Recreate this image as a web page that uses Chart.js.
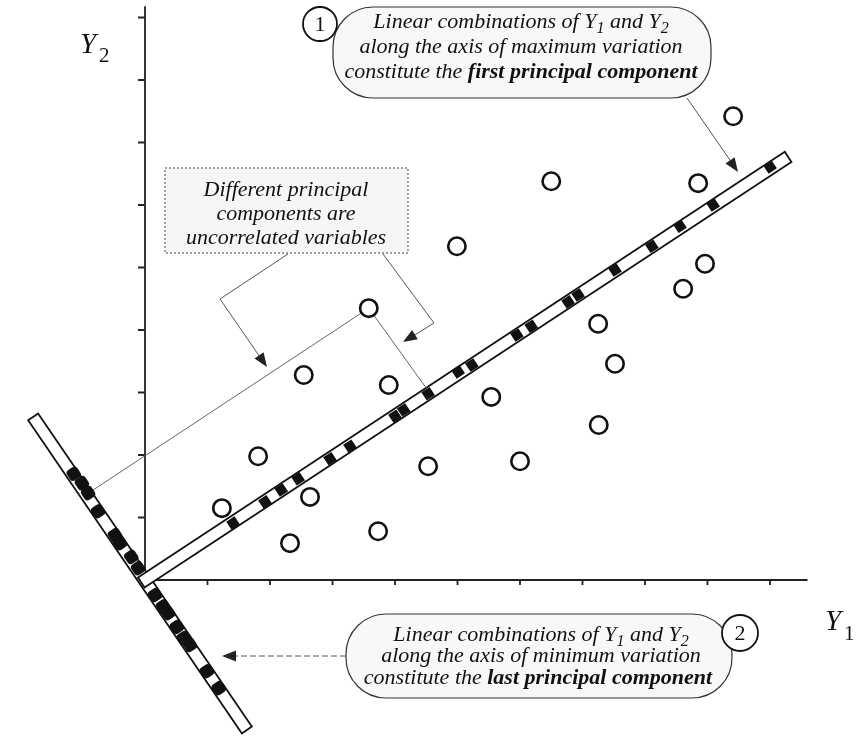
<!DOCTYPE html>
<html>
<head>
<meta charset="utf-8">
<script src="https://cdn.jsdelivr.net/npm/chart.js@4"></script>
<style>
  body { margin: 0; background: #fff; }
  #chartContainer { width: 860px; height: 736px; }
</style>
</head>
<body>
<div id="chartContainer"><canvas id="chartCanvas" width="860" height="736"></canvas></div>
<script>
// axis ticks (one unit per tick)
const xTicks = [1, 2, 3, 4, 5, 6, 7, 8, 9, 10];
const yTicks = [1, 2, 3, 4, 5, 6, 7, 8, 9];

// observations (open circles)
const obsY1 = [1.23, 1.81, 2.32, 2.54, 2.64, 3.58, 3.73, 3.90, 4.53, 4.99, 5.54, 6.00, 6.50, 7.25, 7.26, 7.52, 8.61, 8.85, 8.96, 9.41];
const obsY2 = [1.15, 1.98, 0.59, 3.28, 1.33, 4.35, 0.78, 3.12, 1.82, 5.34, 2.93, 1.90, 6.38, 4.10, 2.48, 3.46, 4.66, 6.35, 5.06, 7.42];

// projections on the first principal component
const pc1Y1 = [1.41, 1.92, 2.18, 2.45, 2.96, 3.28, 4.00, 4.14, 4.53, 5.01, 5.23, 5.95, 6.18, 6.77, 6.93, 7.52, 8.11, 8.56, 9.09, 10.00];
const pc1Y2 = [0.91, 1.25, 1.44, 1.62, 1.94, 2.14, 2.62, 2.72, 2.98, 3.33, 3.44, 3.92, 4.06, 4.45, 4.56, 4.96, 5.34, 5.66, 6.00, 6.61];

// projections on the last principal component
const pc2Y1 = [-1.14, -1.01, -0.91, -0.75, -0.48, -0.40, -0.22, -0.11, 0.16, 0.29, 0.37, 0.51, 0.62, 0.72, 0.99, 1.18];
const pc2Y2 = [1.70, 1.55, 1.39, 1.10, 0.72, 0.59, 0.37, 0.19, -0.24, -0.42, -0.53, -0.75, -0.93, -1.04, -1.46, -1.73];

// component axes (end points)
const pc1AxisY1 = [-0.06, 10.29];
const pc1AxisY2 = [-0.04, 6.77];
const pc2AxisY1 = [-1.79, 1.63];
const pc2AxisY2 = [2.61, -2.40];

// projection lines of one observation
const projToPc1Y1 = [3.58, 4.50];
const projToPc1Y2 = [4.35, 3.07];
const projToPc2Y1 = [3.58, -0.83];
const projToPc2Y2 = [4.35, 1.44];

const SERIF = '"Liberation Serif", "DejaVu Serif", serif';

function pts(xs, ys) {
    return xs.map((x, i) => ({ x: x, y: ys[i] }));
}

function drawRich(ctx, parts, cx, y, size) {
    const fontFor = w => {
        if (w === 'b') return `italic bold ${size}px ${SERIF}`;
        if (w === 'sub') return `italic ${Math.round(size * 0.72)}px ${SERIF}`;
        return `italic ${size}px ${SERIF}`;
    };
    let total = 0;
    parts.forEach(p => { ctx.font = fontFor(p.w); total += ctx.measureText(p.t).width; });
    let x = cx - total / 2;
    ctx.textBaseline = 'alphabetic';
    ctx.textAlign = 'left';
    parts.forEach(p => {
        ctx.font = fontFor(p.w);
        ctx.fillText(p.t, x, p.w === 'sub' ? y + size * 0.22 : y);
        x += ctx.measureText(p.t).width;
    });
}

function arrowHead(ctx, fx, fy, tx, ty) {
    const a = Math.atan2(ty - fy, tx - fx);
    const len = 14, half = 5.5;
    ctx.beginPath();
    ctx.moveTo(tx, ty);
    ctx.lineTo(tx - len * Math.cos(a) + half * Math.sin(a), ty - len * Math.sin(a) - half * Math.cos(a));
    ctx.lineTo(tx - len * Math.cos(a) - half * Math.sin(a), ty - len * Math.sin(a) + half * Math.cos(a));
    ctx.closePath();
    ctx.fillStyle = '#222';
    ctx.fill();
}

function drawBar(ctx, p0, p1, half) {
    const dx = p1[0] - p0[0], dy = p1[1] - p0[1];
    const l = Math.hypot(dx, dy);
    const nx = -dy / l * half, ny = dx / l * half;
    ctx.beginPath();
    ctx.moveTo(p0[0] + nx, p0[1] + ny);
    ctx.lineTo(p1[0] + nx, p1[1] + ny);
    ctx.lineTo(p1[0] - nx, p1[1] - ny);
    ctx.lineTo(p0[0] - nx, p0[1] - ny);
    ctx.closePath();
    ctx.fillStyle = '#fff';
    ctx.fill();
    ctx.lineWidth = 1.8;
    ctx.strokeStyle = '#111';
    ctx.stroke();
}

const axesPlugin = {
    id: 'axesAndBars',
    beforeDatasetsDraw(chart) {
        const ctx = chart.ctx;
        const sx = chart.scales.x, sy = chart.scales.y;
        const P = (x, y) => [sx.getPixelForValue(x), sy.getPixelForValue(y)];
        const o = P(0, 0);
        ctx.save();
        ctx.strokeStyle = '#222';
        ctx.lineWidth = 1.8;
        // Y2 axis
        ctx.beginPath();
        ctx.moveTo(o[0], o[1]);
        ctx.lineTo(o[0], P(0, 9.18)[1]);
        yTicks.forEach(t => {
            const p = P(0, t);
            ctx.moveTo(p[0] - 7, p[1]);
            ctx.lineTo(p[0], p[1]);
        });
        // Y1 axis
        ctx.moveTo(o[0], o[1]);
        ctx.lineTo(P(10.6, 0)[0], o[1]);
        xTicks.forEach(t => {
            const p = P(t, 0);
            ctx.moveTo(p[0], p[1]);
            ctx.lineTo(p[0], p[1] + 5);
        });
        ctx.stroke();

        drawBar(ctx, P(pc2AxisY1[0], pc2AxisY2[0]), P(pc2AxisY1[1], pc2AxisY2[1]), 6);
        drawBar(ctx, P(pc1AxisY1[0], pc1AxisY2[0]), P(pc1AxisY1[1], pc1AxisY2[1]), 6);

        // axis titles
        ctx.fillStyle = '#111';
        ctx.textAlign = 'left';
        ctx.textBaseline = 'alphabetic';
        ctx.font = `italic 29px ${SERIF}`;
        ctx.fillText('Y', 80, 53);
        ctx.fillText('Y', 825, 630);
        ctx.font = `21px ${SERIF}`;
        ctx.fillText('2', 99, 62);
        ctx.fillText('1', 844, 640);
        ctx.restore();
    },
    afterDatasetsDraw(chart) {
        const ctx = chart.ctx;
        ctx.save();
        ctx.fillStyle = '#111';

        // box: uncorrelated
        ctx.fillStyle = '#f6f6f6';
        ctx.fillRect(165, 168, 243, 85);
        ctx.setLineDash([2, 2]);
        ctx.strokeStyle = '#444';
        ctx.lineWidth = 1;
        ctx.strokeRect(165, 168, 243, 85);
        ctx.setLineDash([]);
        ctx.fillStyle = '#111';
        drawRich(ctx, [{ t: 'Different principal', w: 'i' }], 286, 196, 22);
        drawRich(ctx, [{ t: 'components are', w: 'i' }], 286, 220, 22);
        drawRich(ctx, [{ t: 'uncorrelated variables', w: 'i' }], 286, 244, 22);

        ctx.strokeStyle = '#555';
        ctx.lineWidth = 1;
        ctx.beginPath();
        ctx.moveTo(288, 254); ctx.lineTo(220, 299); ctx.lineTo(262, 360);
        ctx.moveTo(383, 254); ctx.lineTo(434, 323); ctx.lineTo(410, 338);
        ctx.stroke();
        arrowHead(ctx, 220, 299, 267, 367);
        arrowHead(ctx, 434, 323, 403, 342);

        // bubble 1
        ctx.beginPath();
        ctx.roundRect(333, 7, 378, 91, 40);
        ctx.fillStyle = '#f8f8f8';
        ctx.fill();
        ctx.strokeStyle = '#333';
        ctx.lineWidth = 1.2;
        ctx.stroke();
        ctx.beginPath();
        ctx.arc(320, 24, 17, 0, Math.PI * 2);
        ctx.fillStyle = '#fff';
        ctx.fill();
        ctx.lineWidth = 1.8;
        ctx.strokeStyle = '#111';
        ctx.stroke();
        ctx.fillStyle = '#111';
        ctx.font = `22px ${SERIF}`;
        ctx.textAlign = 'center';
        ctx.textBaseline = 'middle';
        ctx.fillText('1', 320, 25);
        drawRich(ctx, [{ t: 'Linear combinations of Y', w: 'i' }, { t: '1', w: 'sub' }, { t: ' and Y', w: 'i' }, { t: '2', w: 'sub' }], 521, 28, 22);
        drawRich(ctx, [{ t: 'along the axis of maximum variation', w: 'i' }], 521, 53, 22);
        drawRich(ctx, [{ t: 'constitute the ', w: 'i' }, { t: 'first principal component', w: 'b' }], 521, 78, 22);

        ctx.strokeStyle = '#555';
        ctx.lineWidth = 1;
        ctx.beginPath();
        ctx.moveTo(687, 98); ctx.lineTo(732, 163);
        ctx.stroke();
        arrowHead(ctx, 687, 98, 738, 172);

        // bubble 2
        ctx.beginPath();
        ctx.roundRect(346, 614, 386, 84, 40);
        ctx.fillStyle = '#f8f8f8';
        ctx.fill();
        ctx.strokeStyle = '#333';
        ctx.lineWidth = 1.2;
        ctx.stroke();
        ctx.beginPath();
        ctx.arc(740, 633, 18, 0, Math.PI * 2);
        ctx.fillStyle = '#fff';
        ctx.fill();
        ctx.lineWidth = 1.8;
        ctx.strokeStyle = '#111';
        ctx.stroke();
        ctx.fillStyle = '#111';
        ctx.font = `22px ${SERIF}`;
        ctx.textAlign = 'center';
        ctx.textBaseline = 'middle';
        ctx.fillText('2', 740, 634);
        drawRich(ctx, [{ t: 'Linear combinations of Y', w: 'i' }, { t: '1', w: 'sub' }, { t: ' and Y', w: 'i' }, { t: '2', w: 'sub' }], 541, 641, 22);
        drawRich(ctx, [{ t: 'along the axis of minimum variation', w: 'i' }], 541, 662, 22);
        drawRich(ctx, [{ t: 'constitute the ', w: 'i' }, { t: 'last principal component', w: 'b' }], 538, 684, 22);

        ctx.strokeStyle = '#555';
        ctx.lineWidth = 1;
        ctx.setLineDash([6, 3]);
        ctx.beginPath();
        ctx.moveTo(346, 656); ctx.lineTo(234, 656);
        ctx.stroke();
        ctx.setLineDash([]);
        arrowHead(ctx, 346, 656, 222, 656);
        ctx.restore();
    }
};

document.addEventListener("DOMContentLoaded", function () {
    const ctx = document.getElementById("chartCanvas").getContext("2d");

    new Chart(ctx, {
        type: "scatter",
        data: {
            datasets: [
                {
                    label: "Observations",
                    data: pts(obsY1, obsY2),
                    pointRadius: 8.7,
                    borderWidth: 2.6,
                    borderColor: "#111",
                    backgroundColor: "#fff",
                    order: 0,
                },
                {
                    label: "First principal component",
                    data: pts(pc1Y1, pc1Y2),
                    pointStyle: "rect",
                    rotation: -33.5,
                    pointRadius: 7,
                    borderWidth: 0,
                    backgroundColor: "#111",
                    order: 1,
                },
                {
                    label: "Last principal component",
                    data: pts(pc2Y1, pc2Y2),
                    pointStyle: "rectRounded",
                    rotation: 56.5,
                    pointRadius: 7.2,
                    borderWidth: 0,
                    backgroundColor: "#111",
                    order: 1,
                },
                {
                    label: "Projection 1",
                    data: pts(projToPc1Y1, projToPc1Y2),
                    showLine: true,
                    pointRadius: 0,
                    borderColor: "#666",
                    borderWidth: 1,
                    order: 2,
                },
                {
                    label: "Projection 2",
                    data: pts(projToPc2Y1, projToPc2Y2),
                    showLine: true,
                    pointRadius: 0,
                    borderColor: "#666",
                    borderWidth: 1,
                    order: 2,
                },
            ],
        },
        options: {
            responsive: false,
            animation: false,
            events: [],
            layout: { padding: 0, autoPadding: false },
            plugins: {
                legend: { display: false },
                tooltip: { enabled: false },
            },
            scales: {
                x: { type: "linear", min: -2.32, max: 11.44, display: false },
                y: { type: "linear", min: -2.496, max: 9.28, display: false },
            },
        },
        plugins: [axesPlugin],
    });
});
</script>
</body>
</html>
